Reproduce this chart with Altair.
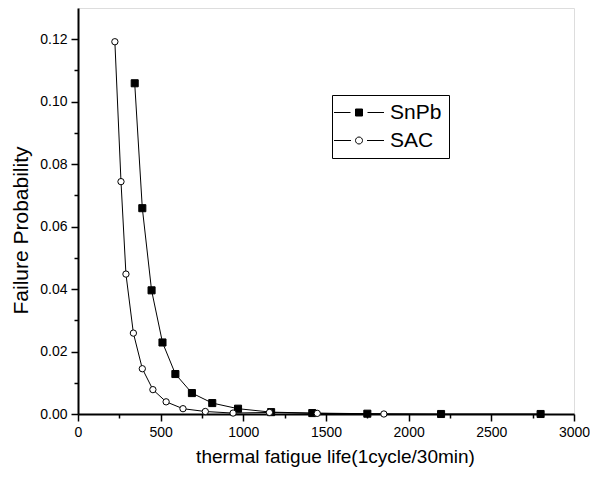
import altair as alt
import pandas as pd

# SnPb series (filled squares)
snpb_x = [343, 389, 445, 511, 589, 689, 812, 968, 1168, 1417, 1750, 2196, 2798]
snpb_y = [0.1059, 0.0659, 0.0396, 0.0229, 0.0128, 0.0067, 0.0035, 0.0017, 0.0006, 0.0003, 0.0001, 0.0, 0.0]
# SAC series (open circles)
sac_x = [223, 260, 290, 335, 389, 453, 533, 635, 770, 938, 1158, 1447, 1850]
sac_y = [0.1192, 0.0744, 0.0448, 0.0259, 0.0145, 0.0078, 0.0039, 0.0017, 0.0008, 0.0003, 0.0005, 0.0002, 0.0]

series_names = ["SnPb", "SAC"]
x_ticks = [0, 500, 1000, 1500, 2000, 2500, 3000]
x_minor = [250, 750, 1250, 1750, 2250, 2750]
y_ticks = [0.0, 0.02, 0.04, 0.06, 0.08, 0.10, 0.12]
y_minor = [0.01, 0.03, 0.05, 0.07, 0.09, 0.11]

rows = []
for xv, yv in zip(snpb_x, snpb_y):
    rows.append({"life": xv, "prob": yv, "series": "SnPb"})
for xv, yv in zip(sac_x, sac_y):
    rows.append({"life": xv, "prob": yv, "series": "SAC"})
df = pd.DataFrame(rows)

FONT = "Liberation Sans"
xscale = alt.Scale(domain=[0, 3000], nice=False)
yscale = alt.Scale(domain=[0, 0.13], nice=False)

x_axis = alt.Axis(values=x_ticks, format="d", title="thermal fatigue life(1cycle/30min)", grid=False,
                  labelFontSize=14, labelFont=FONT, labelColor="black", labelPadding=4,
                  labelFlush=False,
                  tickSize=7, tickWidth=1.5, tickColor="black", domainColor="black",
                  domainWidth=2, titleFont=FONT, titleFontSize=19, titleFontWeight="normal",
                  titleColor="black", titlePadding=8, titleX=257, orient="bottom")
y_axis = alt.Axis(values=y_ticks, format=".2f", title="Failure Probability", grid=False,
                  labelFontSize=14, labelFont=FONT, labelColor="black", labelPadding=4,
                  labelFlush=False,
                  tickSize=7, tickWidth=1.5, tickColor="black", domainColor="black",
                  domainWidth=2, titleFont=FONT, titleFontSize=21, titleFontWeight="normal",
                  titleColor="black", titlePadding=8, titleY=222, orient="left")
x_minor_axis = alt.Axis(values=x_minor, labels=False, domain=False, grid=False, title=None,
                        tickSize=4, tickWidth=1.5, tickColor="black", orient="bottom")
y_minor_axis = alt.Axis(values=y_minor, labels=False, domain=False, grid=False, title=None,
                        tickSize=4, tickWidth=1.5, tickColor="black", orient="left")

base = alt.Chart(df)

lines = base.mark_line(color="black", strokeWidth=1).encode(
    x=alt.X("life:Q", scale=xscale, axis=x_axis),
    y=alt.Y("prob:Q", scale=yscale, axis=y_axis),
    detail="series:N",
)

points = base.mark_point(filled=True, stroke="black", strokeWidth=1, opacity=1).encode(
    x=alt.X("life:Q", scale=xscale, axis=None),
    y=alt.Y("prob:Q", scale=yscale, axis=None),
    shape=alt.Shape("series:N", scale=alt.Scale(domain=series_names, range=["square", "circle"]), legend=None),
    fill=alt.Fill("series:N", scale=alt.Scale(domain=series_names, range=["black", "white"]), legend=None),
    size=alt.Size("series:N", scale=alt.Scale(domain=series_names, range=[50, 40]), legend=None),
)

minor = base.mark_point(opacity=0).encode(
    x=alt.X("life:Q", scale=xscale, axis=x_minor_axis),
    y=alt.Y("prob:Q", scale=yscale, axis=y_minor_axis),
)

sq_path = "M-5,0H-1.7M1.7,0H5M-0.7,-0.7H0.7V0.7H-0.7Z"
ci_path = "M-5,0H-1.6M1.6,0H5M0.7,0A0.7,0.7,0,1,1,-0.7,0A0.7,0.7,0,1,1,0.7,0"

legend = alt.Legend(title=None, orient="none", legendX=254, legendY=87, direction="vertical",
                    labelFont=FONT, labelFontSize=21, labelColor="black",
                    symbolSize=100, symbolStrokeColor="black", symbolStrokeWidth=1,
                    symbolOpacity=1,
                    symbolOffset=9.5, labelOffset=20.5, rowPadding=6, padding=7,
                    strokeColor="black", fillColor="white")

legend_layer = base.transform_filter("false").mark_point(filled=True, strokeWidth=1, opacity=1).encode(
    shape=alt.Shape("series:N", scale=alt.Scale(domain=series_names, range=[sq_path, ci_path]), legend=legend),
    fill=alt.Fill("series:N", scale=alt.Scale(domain=series_names, range=["black", "white"]), legend=legend),
    stroke=alt.Stroke("series:N", scale=alt.Scale(domain=series_names, range=["black", "black"]), legend=legend),
)

chart = alt.layer(lines, minor, points, legend_layer).resolve_scale(
    shape="independent", fill="independent", size="independent", stroke="independent"
).resolve_axis(x="independent", y="independent").properties(
    width=496, height=406,
    autosize=alt.AutoSizeParams(type="none"),
    padding={"left": 70, "top": 0, "right": 16, "bottom": 56},
).configure_view(strokeWidth=0).configure(background="white")

chart.save("out.html", embed_options={"renderer": "svg", "actions": False})
